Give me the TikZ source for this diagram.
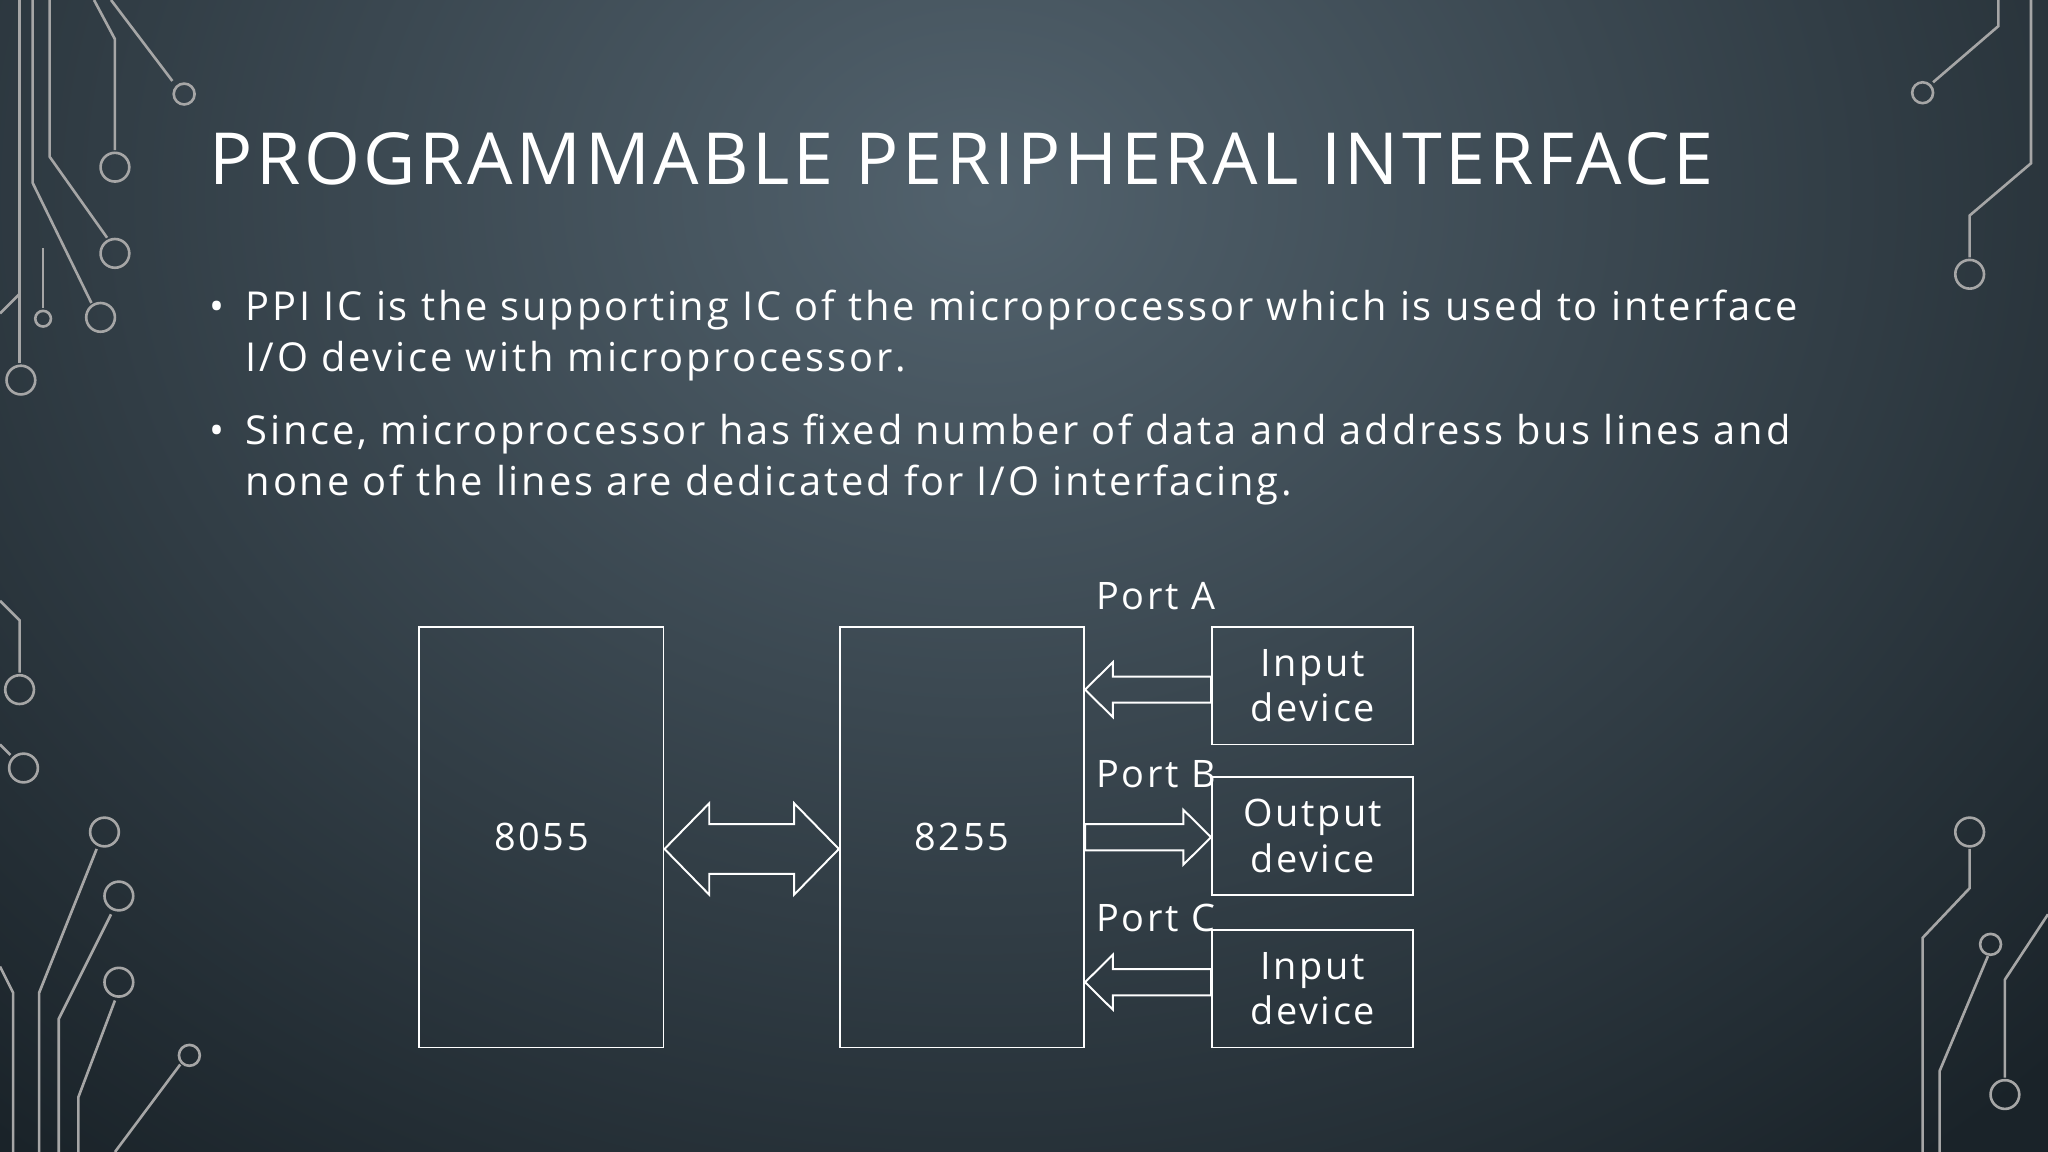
\documentclass[tikz,border=0pt]{standalone}
\usepackage{fontspec}
\setmainfont{Open Sans}
\newfontfamily\titlef[LetterSpace=5]{Open Sans}
\newfontfamily\bodyf[LetterSpace=7]{Open Sans}
\begin{document}
\begin{tikzpicture}[x=1pt,y=-1pt,
  box/.style={draw=white,line width=1.5pt,inner sep=0pt},
  arr/.style={draw=white,line width=1.5pt,line join=miter},
  lbl/.style={text=white,font=\bodyf\fontsize{29}{35}\selectfont,align=center},
  deco/.style={draw=gray!70,line width=2pt},
  dc/.style={deco,fill=none}]
\definecolor{bgin}{HTML}{52626D}
\definecolor{bgout}{HTML}{1A2329}
\useasboundingbox (0,0) rectangle (1568,882);
\fill[bgout] (0,0) rectangle (1568,882);
\shade[inner color=bgin,outer color=bgout] (-400,-800) rectangle (1900,1100);
% left decoration
\draw[deco] (72,0) -- (88,30) -- (88,115); \draw[dc] (88,128) circle (11);
\draw[deco] (85,0) -- (132,62); \draw[dc] (141,72) circle (8);
\draw[deco] (38,0) -- (38,120) -- (82,182); \draw[dc] (88,194) circle (11);
\draw[deco] (25,0) -- (25,140) -- (70,232); \draw[dc] (77,243) circle (11);
\draw[deco] (15,0) -- (15,278); \draw[dc] (16,291) circle (11);
\draw[deco] (33,190) -- (33,236); \draw[dc] (33,244) circle (6);
\draw[deco] (0,240) -- (15,225);
\draw[deco] (0,460) -- (15,475) -- (15,515); \draw[dc] (15,528) circle (11);
\draw[deco] (0,570) -- (8,578); \draw[dc] (18,588) circle (11);
\draw[deco] (0,740) -- (10,760) -- (10,882);
\draw[deco] (30,882) -- (30,760) -- (74,650); \draw[dc] (80,637) circle (11);
\draw[deco] (45,882) -- (45,780) -- (85,700); \draw[dc] (91,686) circle (11);
\draw[deco] (60,882) -- (60,840) -- (88,766); \draw[dc] (91,752) circle (11);
\draw[deco] (88,882) -- (138,815); \draw[dc] (145,808) circle (8);
% right decoration
\draw[deco] (1530,0) -- (1530,20) -- (1480,63); \draw[dc] (1472,71) circle (8);
\draw[deco] (1555,0) -- (1555,125) -- (1508,165) -- (1508,197); \draw[dc] (1508,210) circle (11);
\draw[deco] (1508,650) -- (1508,680) -- (1472,718) -- (1472,882); \draw[dc] (1508,637) circle (11);
\draw[deco] (1522,732) -- (1485,820) -- (1485,882); \draw[dc] (1524,723) circle (8);
\draw[deco] (1535,825) -- (1535,750) -- (1568,700); \draw[dc] (1535,838) circle (11);
% text
\node[anchor=base west,text=white,font=\titlef\fontsize{55}{60}\selectfont,inner sep=0pt] (title) at (160,141) {PROGRAMMABLE PERIPHERAL INTERFACE};
\node[anchor=north west,text=white,font=\bodyf\fontsize{30.5}{39}\selectfont,text width=1350pt,inner sep=0pt,align=left] (b1) at (160,222)
 {\makebox[28pt][l]{•}PPI IC is the supporting IC of the microprocessor which is used to interface\\\hspace*{28pt}I/O device with microprocessor.};
\node[anchor=north west,text=white,font=\bodyf\fontsize{30.5}{39}\selectfont,text width=1350pt,inner sep=0pt,align=left] (b2) at (160,317)
 {\makebox[28pt][l]{•}Since, microprocessor has fixed number of data and address bus lines and\\\hspace*{28pt}none of the lines are dedicated for I/O interfacing.};
% boxes
\node[box,minimum width=187pt,minimum height=322pt,lbl] (a) at (414.5,641) {8055};
\node[box,minimum width=187pt,minimum height=322pt,lbl] (b) at (736.5,641) {8255};
\node[box,minimum width=154pt,minimum height=90pt,lbl] (i1) at (1005,525) {Input\\device};
\node[box,minimum width=154pt,minimum height=90pt,lbl] (o1) at (1005,640) {Output\\device};
\node[box,minimum width=154pt,minimum height=90pt,lbl] (i2) at (1005,757) {Input\\device};
\node[lbl,anchor=base] (pa) at (885,467) {Port A};
\node[lbl,anchor=base] (pb) at (885,603) {Port B};
\node[lbl,anchor=base] (pc) at (885,713) {Port C};
% double arrow
\draw[arr] (a.east |- 0,650) -- (543,615) -- (543,631) -- (608,631) -- (608,615) -- (b.west |- 0,650) -- (608,685) -- (608,669) -- (543,669) -- (543,685) -- cycle;
% port A (left)
\draw[arr] (b.east |- 0,528) -- (852,507) -- (852,518) -- (i1.west |- 0,518) -- (i1.west |- 0,538) -- (852,538) -- (852,549) -- cycle;
% port B (right)
\draw[arr] (o1.west |- 0,641) -- (906,620) -- (906,631) -- (b.east |- 0,631) -- (b.east |- 0,651) -- (906,651) -- (906,662) -- cycle;
% port C (left)
\draw[arr] (b.east |- 0,752) -- (852,731) -- (852,742) -- (i2.west |- 0,742) -- (i2.west |- 0,762) -- (852,762) -- (852,773) -- cycle;
\end{tikzpicture}
\end{document}
